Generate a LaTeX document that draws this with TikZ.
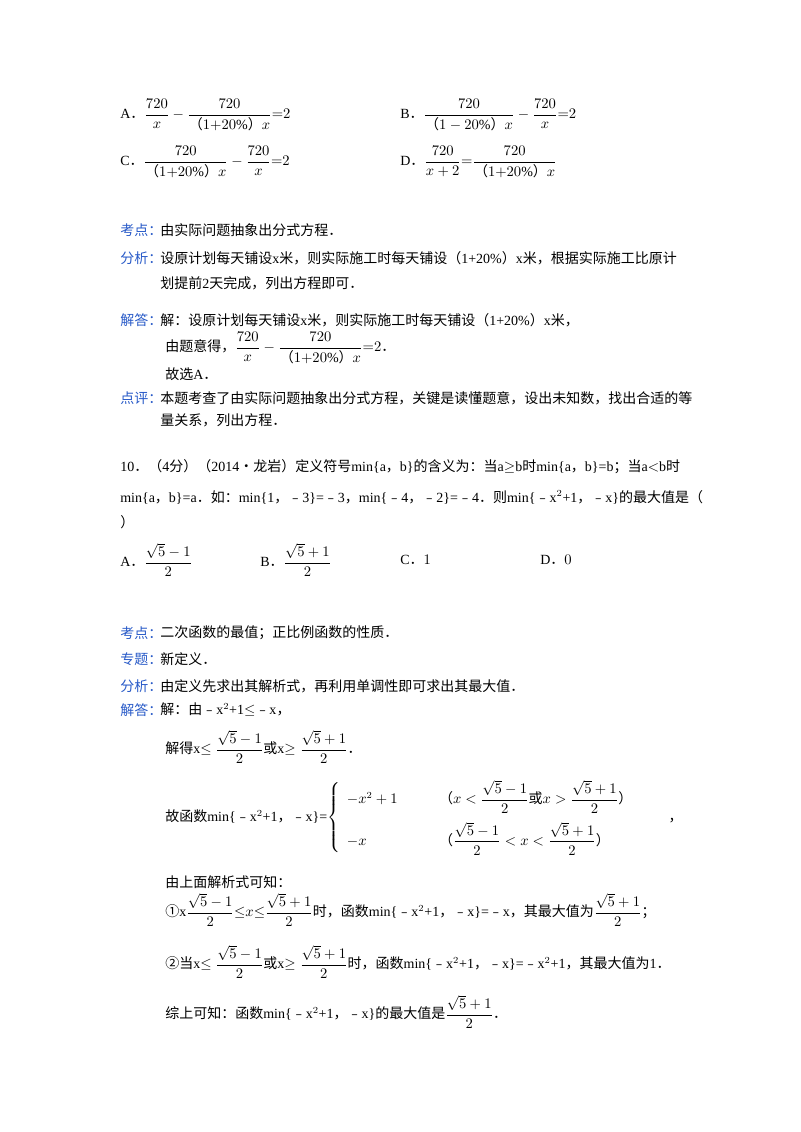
\documentclass[tikz,border=0pt]{standalone}
\usepackage{amsmath}
\usepackage{fontspec}
\setmainfont{Liberation Serif}
\newfontfamily\zh{Noto Sans CJK SC}
\newcommand\mi{{\zh ﹣}}
\newcommand\cm{{\zh ，}}
\newcommand\pd{{\zh ．}}
\definecolor{lab}{RGB}{40,90,200}
\begin{document}
\begin{tikzpicture}[x=0.75pt,y=-0.75pt,
  t/.style={anchor=west,inner sep=0pt,font=\fontsize{10.5}{13}\selectfont},
  l/.style={t,text=lab}]
\useasboundingbox (0,0) rectangle (800,1132);
\fill[white] (0,0) rectangle (800,1132);
\node[t] (a) at (120,115) {A\pd $\dfrac{720}{x}-\dfrac{720}{\text{\zh（}1{+}20\%\text{\zh）}x}{=}2$};
\node[t] (b) at (400,115) {B\pd $\dfrac{720}{\text{\zh（}1-20\%\text{\zh）}x}-\dfrac{720}{x}{=}2$};
\node[t] (c) at (120,162) {C\pd $\dfrac{720}{\text{\zh（}1{+}20\%\text{\zh）}x}-\dfrac{720}{x}{=}2$};
\node[t] (d) at (400,162) {D\pd $\dfrac{720}{x+2}{=}\dfrac{720}{\text{\zh（}1{+}20\%\text{\zh）}x}$};
\node[l] (k1) at (120,230) {\zh 考点：};
\node[t] (k1t) at (160,230) {\zh 由实际问题抽象出分式方程．};
\node[l] (f1) at (120,258) {\zh 分析：};
\node[t] (f1t) at (160,258) {\zh 设原计划每天铺设\rmfamily x\zh 米，则实际施工时每天铺设（\rmfamily 1+20\%\zh）\rmfamily x\zh 米，根据实际施工比原计};
\node[t] (f1u) at (160,283) {\zh 划提前\rmfamily 2\zh 天完成，列出方程即可．};
\node[l] (j1) at (120,320) {\zh 解答：};
\node[t] (j1t) at (160,320) {\zh 解：设原计划每天铺设\rmfamily x\zh 米，则实际施工时每天铺设（\rmfamily 1+20\%\zh）\rmfamily x\zh 米，};
\node[t] (j1u) at (165,348) {\zh 由题意得，$\dfrac{720}{x}-\dfrac{720}{\text{\zh（}1{+}20\%\text{\zh）}x}{=}2$．};
\node[t] (j1v) at (165,374) {\zh 故选\rmfamily A\zh ．};
\node[l] (p1) at (120,398) {\zh 点评：};
\node[t] (p1t) at (160,398) {\zh 本题考查了由实际问题抽象出分式方程，关键是读懂题意，设出未知数，找出合适的等};
\node[t] (p1u) at (160,420) {\zh 量关系，列出方程．};
\node[t] (q1) at (120,467) {10\pd\zh（\rmfamily 4\zh 分）（\rmfamily 2014\zh •龙岩）定义符号\rmfamily min\{a\cm b\}\zh 的含义为：当\rmfamily a$\geq$b\zh 时\rmfamily min\{a\cm b\}=b\zh ；当\rmfamily a$<$b\zh 时};
\node[t] (q2) at (120,497) {min\{a\cm b\}=a\zh ．如：\rmfamily min\{1\cm \mi 3\}=\mi 3\cm min\{\mi 4\cm \mi 2\}=\mi 4\zh ．则\rmfamily min\{\mi x$^2$+1\cm \mi x\}\zh 的最大值是（};
\node[t] (q3) at (120,522) {\zh ）};
\node[t] (oa) at (120,560) {A\pd $\dfrac{\sqrt5-1}{2}$};
\node[t] (ob) at (260,560) {B\pd $\dfrac{\sqrt5+1}{2}$};
\node[t] (oc) at (400,560) {C\pd $1$};
\node[t] (od) at (540,560) {D\pd $0$};
\node[l] (k2) at (120,633) {\zh 考点：};
\node[t] (k2t) at (160,633) {\zh 二次函数的最值；正比例函数的性质．};
\node[l] (z2) at (120,659) {\zh 专题：};
\node[t] (z2t) at (160,659) {\zh 新定义．};
\node[l] (f2) at (120,686) {\zh 分析：};
\node[t] (f2t) at (160,686) {\zh 由定义先求出其解析式，再利用单调性即可求出其最大值．};
\node[l] (j2) at (120,710) {\zh 解答：};
\node[t] (j2t) at (160,710) {\zh 解：由\rmfamily \mi x$^2$+1$\leq$\mi x\cm};
\node[t] (s1) at (165,747) {\zh 解得\rmfamily x$\leq\dfrac{\sqrt5-1}{2}$\zh 或\rmfamily x$\geq\dfrac{\sqrt5+1}{2}$\pd};
\node[t] (s2) at (165,818) {\zh 故函数\rmfamily min\{\mi x$^2$+1\cm \mi x\}=$\left\{\begin{array}{ll}-x^2+1\qquad & \text{\zh（}x<\dfrac{\sqrt5-1}{2}\text{\zh 或}x>\dfrac{\sqrt5+1}{2}\text{\zh ）}\\[10pt] -x & \text{\zh（}\dfrac{\sqrt5-1}{2}<x<\dfrac{\sqrt5+1}{2}\text{\zh ）}\end{array}\right.$\qquad\cm};
\node[t] (s3) at (165,882) {\zh 由上面解析式可知：};
\node[t] (s4) at (165,910) {\zh ①\rmfamily x$\dfrac{\sqrt5-1}{2}{\leq}x{\leq}\dfrac{\sqrt5+1}{2}$\zh 时，函数\rmfamily min\{\mi x$^2$+1\cm \mi x\}=\mi x\zh ，其最大值为$\dfrac{\sqrt5+1}{2}$\zh ；};
\node[t] (s5) at (165,962) {\zh ②当\rmfamily x$\leq\dfrac{\sqrt5-1}{2}$\zh 或\rmfamily x$\geq\dfrac{\sqrt5+1}{2}$\zh 时，函数\rmfamily min\{\mi x$^2$+1\cm \mi x\}=\mi x$^2$+1\zh ，其最大值为\rmfamily 1\zh ．};
\node[t] (s6) at (165,1012) {\zh 综上可知：函数\rmfamily min\{\mi x$^2$+1\cm \mi x\}\zh 的最大值是$\dfrac{\sqrt5+1}{2}$．};
\end{tikzpicture}
\end{document}
